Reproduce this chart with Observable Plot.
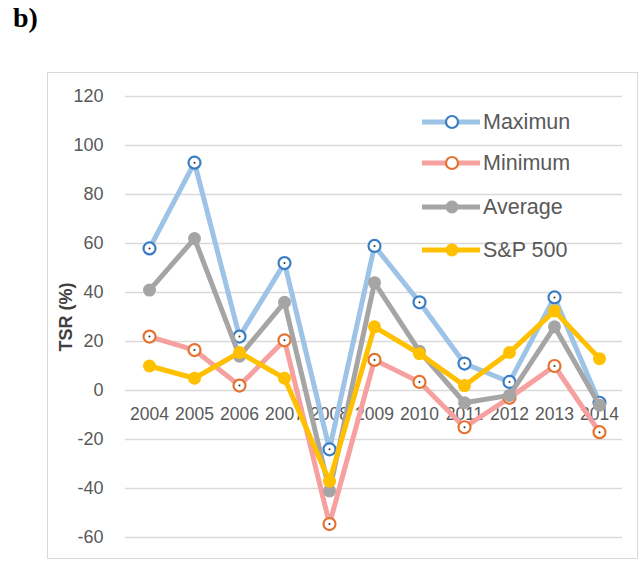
<!DOCTYPE html>
<html><head><meta charset="utf-8">
<script src="https://cdn.jsdelivr.net/npm/d3@7"></script>
<script src="https://cdn.jsdelivr.net/npm/@observablehq/plot@0.6"></script>
<style>
body{margin:0;background:#fff;}
#wrap{position:relative;width:642px;height:563px;overflow:hidden;background:#fff;}
#box{position:absolute;left:47px;top:72px;width:591px;height:487px;border:1.5px solid #d9d9d9;box-sizing:border-box;}
#tag{position:absolute;left:13px;top:2px;font-family:"Liberation Serif",serif;font-size:28px;font-weight:bold;color:#000;}
#chart{position:absolute;left:0;top:0;}
#legend{position:absolute;left:420px;top:0;font-family:"Liberation Sans",Arial,sans-serif;font-size:21.5px;color:#595959;}
.row{position:absolute;left:0;display:flex;align-items:center;height:30px;white-space:nowrap;}
.row svg{margin-right:1px;}
</style></head>
<body><div id="wrap"><div id="box"></div><div id="tag">b)</div><div id="chart"></div><div id="legend"></div></div>
<script>
const years = ["2004","2005","2006","2007","2008","2009","2010","2011","2012","2013","2014"];
const maximun = [58, 93, 22, 52, -24, 59, 36, 11, 3.5, 38, -5];
const minimum = [22, 16.5, 2, 20.5, -54.5, 12.5, 3.5, -15, -3, 10, -17];
const average = [41, 62, 14, 36, -41, 44, 16, -5, -2, 26, -6];
const sp500 = [10, 5, 15.5, 5, -37, 26, 15, 2, 15.5, 32.5, 13];
const yTicks = [-60, -40, -20, 0, 20, 40, 60, 80, 100, 120];

const series = [
  {name: "Maximun", values: maximun, line: "#9DC3E6", mark: "#3B7DC4", hollow: true},
  {name: "Minimum", values: minimum, line: "#F6A0A0", mark: "#E4732F", hollow: true},
  {name: "Average", values: average, line: "#A5A5A5", mark: "#A5A5A5", hollow: false},
  {name: "S&P 500", values: sp500, line: "#FFC000", mark: "#FFC000", hollow: false}
];

const marks = [
  Plot.gridY(yTicks, {stroke: "#d9d9d9", strokeOpacity: 1, strokeWidth: 1.5}),
  Plot.axisY(yTicks, {tickSize: 0, tickPadding: 22, fontSize: 18, fill: "#595959", label: null, fontFamily: "Liberation Sans", tickFormat: d => String(d)}),
  Plot.text(years, {x: d => d, y: () => 0, dy: 24, text: d => d, fontSize: 17.5, fill: "#595959", lineAnchor: "middle", fontFamily: "Liberation Sans"}),
  Plot.text(["TSR (%)"], {frameAnchor: "left", dx: -59, rotate: -90, text: d => d, fontSize: 18, fontWeight: "bold", fill: "#404040", fontFamily: "Liberation Sans", textAnchor: "middle"})
];
for (const s of series) {
  const data = years.map((y, i) => ({year: y, value: s.values[i]}));
  marks.push(Plot.line(data, {x: "year", y: "value", stroke: s.line, strokeWidth: 5, strokeLinejoin: "round", strokeLinecap: "round"}));
  if (s.hollow) {
    marks.push(Plot.dot(data, {x: "year", y: "value", r: 6, fill: "white", stroke: s.mark, strokeWidth: 2.2}));
    marks.push(Plot.dot(data, {x: "year", y: "value", r: 1, fill: "#333", stroke: "none"}));
  } else {
    marks.push(Plot.dot(data, {x: "year", y: "value", r: 6.5, fill: s.mark, stroke: "none"}));
  }
}

const chart = Plot.plot({
  width: 642, height: 563,
  marginLeft: 125, marginRight: 20, marginTop: 96, marginBottom: 26,
  style: {background: "transparent", fontFamily: "Liberation Sans"},
  x: {type: "point", domain: years, padding: 0.5, axis: null},
  y: {domain: [-60, 120], axis: null},
  marks
});
document.getElementById("chart").appendChild(chart);

const legend = document.getElementById("legend");
const rowY = [122, 163, 207, 250];
series.forEach((s, i) => {
  const row = document.createElement("div");
  row.className = "row";
  row.style.top = (rowY[i] - 15) + "px";
  const fill = s.hollow ? "white" : s.mark;
  const stroke = s.hollow ? s.mark : "none";
  row.innerHTML = `<svg width="62" height="30"><line x1="2" x2="60" y1="15" y2="15" stroke="${s.line}" stroke-width="5"/><circle cx="32" cy="15" r="${s.hollow ? 6 : 6.5}" fill="${fill}" stroke="${stroke}" stroke-width="2.2"/></svg><span>${s.name}</span>`;
  legend.appendChild(row);
});
</script></body></html>
